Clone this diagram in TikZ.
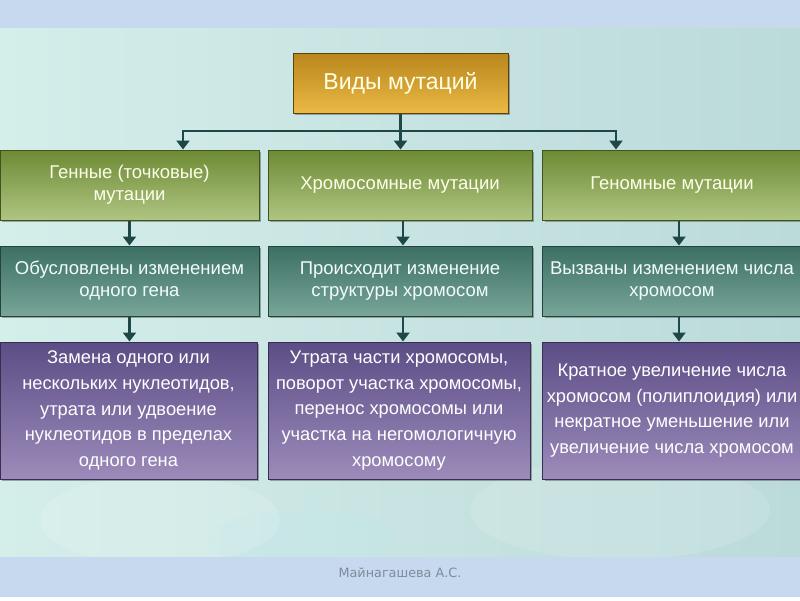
\documentclass[tikz,border=0pt]{standalone}
\usepackage{fontspec}
\setmainfont{Liberation Sans}
\newfontfamily\footfont{DejaVu Sans}
\usetikzlibrary{arrows.meta,shadows,calc}
\definecolor{bandblue}{HTML}{C6D9EE}
\definecolor{bgA}{HTML}{D4EEEA}
\definecolor{bgB}{HTML}{BBDADA}
\definecolor{goldT}{HTML}{B8861C}
\definecolor{goldB}{HTML}{EBB944}
\definecolor{greenT}{HTML}{6D8A34}
\definecolor{greenB}{HTML}{AFC582}
\definecolor{tealT}{HTML}{3C6F63}
\definecolor{tealB}{HTML}{78A699}
\definecolor{purT}{HTML}{5C4D86}
\definecolor{purB}{HTML}{9C8BBA}
\definecolor{connc}{HTML}{1E4747}
\definecolor{foot}{HTML}{7E8C9C}
\tikzset{
  box/.style={rectangle, inner sep=4pt, align=center, draw=#1, line width=1pt,
    drop shadow={shadow xshift=2pt, shadow yshift=-2pt, opacity=0.45, fill=black!70}},
  goldbox/.style={box=goldT!50!black, top color=goldT, bottom color=goldB,
    minimum width=215pt, minimum height=60pt, text=white!90!yellow,
    font=\fontsize{23}{26}\selectfont},
  greenbox/.style={box=greenT!60!black, top color=greenT, bottom color=greenB,
    minimum width=#1, minimum height=70pt, text=white!92!yellow,
    font=\fontsize{18.5}{22}\selectfont},
  tealbox/.style={box=tealT!60!black, top color=tealT, bottom color=tealB,
    minimum width=#1, minimum height=70pt, text=white!95!cyan,
    font=\fontsize{18.5}{22}\selectfont},
  purbox/.style={box=purT!60!black, top color=purT, bottom color=purB,
    minimum width=#1, minimum height=137pt, text=white,
    font=\fontsize{18.3}{25.8}\selectfont},
  conn/.style={draw=connc, line width=2.6pt},
  arr/.style={conn, -{Triangle[width=13pt,length=9pt]}}
}
\begin{document}
\begin{tikzpicture}[x=1pt,y=-1pt]
\useasboundingbox (0,0) rectangle (800,600);
% background
\fill[bandblue] (0,0) rectangle (800,28);
\shade[left color=bgA, right color=bgB] (0,28) rectangle (800,557);
\fill[white, opacity=0.15] (160,520) ellipse (120 and 45);
\fill[white, opacity=0.12] (620,510) ellipse (150 and 50);
\fill[cyan!30, opacity=0.1] (300,540) ellipse (90 and 30);
\fill[bandblue] (0,557) rectangle (800,597);
\fill[white] (0,597) rectangle (800,600);
\node[font=\footfont\fontsize{12.8}{14}\selectfont, text=foot] (ft) at (400,573) {Майнагашева А.С.};

% top
\node[goldbox] (top) at (400.5,83) {Виды мутаций};

% row 1
\node[greenbox=259pt] (g1) at (129.5,185) {Генные (точковые)\\мутации};
\node[greenbox=264pt] (g2) at (400,185) {Хромосомные мутации};
\node[greenbox=259pt] (g3) at (672,185) {Геномные мутации};

% row 2
\node[tealbox=259pt] (t1) at (129.5,281) {Обусловлены изменением\\одного гена};
\node[tealbox=264pt] (t2) at (400,281) {Происходит изменение\\структуры хромосом};
\node[tealbox=259pt] (t3) at (672,281) {Вызваны изменением числа\\хромосом};

% row 3
\node[purbox=257pt] (p1) at (128.5,410.5) {Замена одного или\\нескольких нуклеотидов,\\утрата или удвоение\\нуклеотидов в пределах\\одного гена};
\node[purbox=262pt] (p2) at (399,410.5) {Утрата части хромосомы,\\поворот участка хромосомы,\\перенос хромосомы или\\участка на негомологичную\\хромосому};
\node[purbox=259pt] (p3) at (672,410.5) {Кратное увеличение числа\\хромосом (полиплоидия) или\\некратное уменьшение или\\увеличение числа хромосом};

% connectors
\coordinate (j) at (400.5,131);
\draw[conn] (top.south) -- (j);
\draw[arr] (j) -| ([xshift=53.5pt]g1.north);
\draw[arr] (j) -| ([xshift=-56pt]g3.north);
\draw[arr] (j) -- (g2.north -| j);
\draw[arr] (g1.south) -- (t1.north);
\draw[arr] ([xshift=3pt]g2.south) -- ([xshift=3pt]t2.north);
\draw[arr] ([xshift=7pt]g3.south) -- ([xshift=7pt]t3.north);
\draw[arr] (t1.south) -- (t1.south |- p1.north);
\draw[arr] ([xshift=3pt]t2.south) -- ([xshift=3pt]t2.south |- p2.north);
\draw[arr] ([xshift=7pt]t3.south) -- ([xshift=7pt]t3.south |- p3.north);
\end{tikzpicture}
\end{document}
